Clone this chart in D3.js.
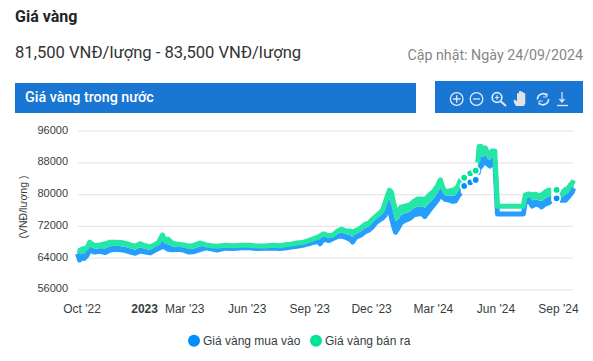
<!DOCTYPE html>
<html>
<head>
<meta charset="utf-8">
<style>
	html, body { margin: 0; padding: 0; background: #fff; }
	svg { display: block; }
	.axis text { font-family: "Liberation Sans", Arial, sans-serif; fill: #373d3f; }
	.left.axis text { font-size: 11px; }
	.bottom.axis text { font-size: 12px; }
	.axis .domain { display: none; }
</style>
<script src="https://cdn.jsdelivr.net/npm/d3@7"></script>
</head>
<body>
<div id="chart-area"></div>
<script>
// Values. null = no price that day, leaves a gap in the line
var dates = [
	"2022-09-25","2022-09-28","2022-10-02","2022-10-05","2022-10-09","2022-10-13","2022-10-20","2022-10-28",
	"2022-11-05","2022-11-12","2022-11-20","2022-11-28","2022-12-05","2022-12-12","2022-12-19","2022-12-26",
	"2023-01-03","2023-01-10","2023-01-16","2023-01-22","2023-01-28","2023-02-01","2023-02-05","2023-02-12",
	"2023-02-20","2023-02-28","2023-03-08","2023-03-15","2023-03-25","2023-04-02","2023-04-10","2023-04-18",
	"2023-05-01","2023-05-12","2023-05-25","2023-06-05","2023-06-15","2023-06-28","2023-07-10","2023-07-20",
	"2023-07-30","2023-08-05","2023-08-14","2023-08-22","2023-08-31","2023-09-08","2023-09-14","2023-09-17",
	"2023-09-22","2023-09-30","2023-10-06","2023-10-12","2023-10-18","2023-10-24","2023-11-01","2023-11-04",
	"2023-11-08","2023-11-16","2023-11-22","2023-11-28","2023-12-02","2023-12-08","2023-12-14","2023-12-18",
	"2023-12-22","2023-12-26","2023-12-28","2023-12-31","2024-01-03","2024-01-06","2024-01-10","2024-01-14",
	"2024-01-20","2024-01-27","2024-02-02","2024-02-08","2024-02-14","2024-02-18","2024-02-25","2024-03-02",
	"2024-03-08","2024-03-12","2024-03-15","2024-03-19","2024-03-25","2024-03-30","2024-04-03","2024-04-07",
	"2024-04-11","2024-04-14","2024-04-16","2024-04-20","2024-04-25","2024-04-29","2024-05-03","2024-05-05",
	"2024-05-06","2024-05-08","2024-05-11","2024-05-14","2024-05-17","2024-05-21","2024-05-24","2024-05-27",
	"2024-05-31","2024-06-04","2024-06-15","2024-06-30","2024-07-12","2024-07-15","2024-07-20","2024-07-25",
	"2024-07-30","2024-08-04","2024-08-08","2024-08-13","2024-08-18","2024-08-22","2024-08-26","2024-08-30",
	"2024-09-02","2024-09-04","2024-09-08","2024-09-12","2024-09-16","2024-09-19","2024-09-22","2024-09-24"
];

var buyPrices = [
	65000,63400,64200,63800,64600,65900,65400,65600,
	65300,65900,66100,66000,65800,65400,65100,65700,
	65400,65200,65800,66300,66800,66600,66100,66000,
	66100,65900,65400,65500,66100,66500,66200,65900,
	66400,66300,66500,66500,66300,66350,66450,66300,
	66500,66700,66900,67100,67500,67900,68050,67500,
	68700,68300,68800,69300,69450,69200,68500,67950,
	69100,69700,70500,71000,71600,72800,73600,74000,
	74800,77000,76500,74000,72000,70400,71500,72800,
	73400,73900,74800,75000,75100,74400,76000,77300,
	78600,80000,79300,78700,78500,78200,78300,79500,
	80300,null,82070,null,83000,null,83590,null,
	85000,86500,87100,87800,88400,87500,87100,88000,
	88400,74980,74980,74980,74980,78000,78500,77000,
	77500,77300,76800,77500,77800,78300,null,78970,
	null,78500,78500,78500,79200,79900,80500,81500
];

var sellPrices = [
	65800,65700,66200,66300,66500,67900,67000,67200,
	67500,67900,67900,67800,67600,67200,66900,67500,
	67000,66700,67200,67800,69700,68400,68700,67600,
	67400,67200,66900,67100,67700,67200,67000,66900,
	67100,67000,67100,67150,66950,66950,67100,67000,
	67300,67400,67700,67800,68300,68800,69200,69500,
	70000,69500,69700,70600,71200,70800,70700,70400,
	70800,71500,72400,72700,73500,74400,75300,76000,
	78000,80000,81000,80500,78000,76000,75800,76700,
	77000,77300,78200,78800,78800,78600,79800,80700,
	82200,83600,81900,80600,80800,81000,81200,82000,
	83800,null,84170,null,85280,null,85930,null,
	88000,92000,92000,90900,91700,90200,90200,90900,
	90900,76980,76980,76980,76980,79800,80050,79800,
	80000,79500,79800,80500,81000,81000,null,81060,
	null,79900,80500,81200,81500,82300,82800,83500
];

// Price held flat through June-July 2024, the two lines stay apart there
var flatBuyPrice = 74980;

var yTicks = [56000, 64000, 72000, 80000, 88000, 96000];
var xTicks = ["2022-10-01","2023-01-01","2023-03-01","2023-06-01","2023-09-01","2023-12-01","2024-03-01","2024-06-01","2024-09-01"];
var xTickLabels = ["Oct '22","2023","Mar '23","Jun '23","Sep '23","Dec '23","Mar '24","Jun '24","Sep '24"];

var seriesNames = ["Giá vàng mua vào", "Giá vàng bán ra"];
var seriesColors = ["#008ffb", "#00e396"];

var width = 593, height = 361;
var parseDate = d3.timeParse("%Y-%m-%d");

var svg = d3.select("#chart-area")
	.append("svg")
		.attr("width", width)
		.attr("height", height);

// Page header above the chart
svg.append("text")
	.attr("x", 15).attr("y", 22)
	.attr("font-family", "Roboto").attr("font-size", 16).attr("font-weight", 700)
	.attr("fill", "#212529")
	.text("Giá vàng");

svg.append("text")
	.attr("x", 15).attr("y", 58)
	.attr("font-family", "Roboto").attr("font-size", 16.6)
	.attr("fill", "#333")
	.text("81,500 VNĐ/lượng - 83,500 VNĐ/lượng");

svg.append("text")
	.attr("x", 583).attr("y", 60)
	.attr("text-anchor", "end")
	.attr("font-family", "Roboto").attr("font-size", 14.25)
	.attr("fill", "#868686")
	.text("Cập nhật: Ngày 24/09/2024");

svg.append("rect")
	.attr("x", 15).attr("y", 83)
	.attr("width", 401).attr("height", 30)
	.attr("fill", "#1976d2");

svg.append("text")
	.attr("x", 25).attr("y", 102)
	.attr("font-family", "Roboto").attr("font-size", 14.3).attr("font-weight", 500)
	.attr("fill", "#fff")
	.text("Giá vàng trong nước");

svg.append("rect")
	.attr("x", 435).attr("y", 81)
	.attr("width", 148).attr("height", 32)
	.attr("fill", "#1976d2");

// Toolbar icons
var icons = svg.append("g")
	.attr("fill", "none")
	.attr("stroke", "#dfeaf7")
	.attr("stroke-width", 1.3);

icons.append("circle").attr("cx", 456.7).attr("cy", 99).attr("r", 6.3);
icons.append("path").attr("d", "M453,99H460.4M456.7,95.3V102.7");
icons.append("circle").attr("cx", 476.5).attr("cy", 99).attr("r", 6.3);
icons.append("path").attr("d", "M473,99H480");
icons.append("circle").attr("cx", 497).attr("cy", 97.5).attr("r", 4.8).attr("stroke-width", 1.7);
icons.append("path").attr("d", "M494.8,97.5H499.2M497,95.3V99.7").attr("stroke-width", 1.2);
icons.append("path").attr("d", "M500.6,101.2L506,106").attr("stroke-width", 2);
icons.append("path")
	.attr("d", "M516,106C514,103 513,101 514,100C515,99.5 516,100.5 517,101.5L517,93.5C518,92.5 518.6,93 518.8,93.5L519,91.5C520,90.8 521,91 521.2,91.5L521.5,92C522.5,91.5 523.2,92 523.4,93C524.4,92.7 525.3,93.3 525.3,94L525.3,103L524,106Z")
	.attr("fill", "#dfe3e8")
	.attr("stroke", "none");
icons.append("path").attr("d", "M537.5,99.5A5.5,5.5 0 0 1 547,95.5M548.5,99A5.5,5.5 0 0 1 539,103").attr("stroke-width", 1.6);
icons.append("path").attr("d", "M547,93V97H543M539,105V101H543").attr("stroke-width", 0.9);
icons.append("path").attr("d", "M562,92V102M559.5,99L562,102L564.5,99").attr("stroke-width", 1.2);
icons.append("path").attr("d", "M557,105.5H568").attr("stroke-width", 1.3);

// Scales
var x = d3.scaleTime()
	.domain([parseDate("2022-09-25"), parseDate("2024-09-24")])
	.range([77.5, 573.6]);

var y = d3.scaleLinear()
	.domain([56000, 96000])
	.range([289.4, 130.7]);

// Y axis with gridlines
var yAxisCall = d3.axisLeft(y)
	.tickValues(yTicks)
	.tickFormat(d3.format("d"))
	.tickSize(-495)
	.tickPadding(10);

var yAxis = svg.append("g")
	.attr("class", "left axis")
	.attr("transform", "translate(78,0)")
	.call(yAxisCall);

yAxis.selectAll(".tick line")
	.attr("stroke", "#e8e8e8")
	.attr("stroke-width", 1.2);

yAxis.selectAll(".tick text")
	.attr("x", -10)
	.attr("y", -1);

// X axis
var xAxisCall = d3.axisBottom(x)
	.tickValues(xTicks.map(parseDate))
	.tickFormat((d, i) => xTickLabels[i])
	.tickSize(0)
	.tickPadding(0);

var xAxis = svg.append("g")
	.attr("class", "bottom axis")
	.attr("transform", "translate(0,304)")
	.call(xAxisCall);

// The year label is bold
xAxis.selectAll(".tick text")
	.style("font-weight", (d, i) => xTickLabels[i] == "2023" ? 700 : 400);

svg.append("text")
	.attr("transform", "translate(27,207) rotate(-90)")
	.attr("text-anchor", "middle")
	.attr("font-family", "Liberation Sans, Arial, sans-serif")
	.attr("font-size", 10.5)
	.attr("fill", "#373d3f")
	.text("(VNĐ/lượng )");

var rows = dates.map((d, i) => ({ date: parseDate(d), buy: buyPrices[i], sell: sellPrices[i] }));

// The daily prices are so dense that they read as solid bands: each line's band
// runs to the halfway point between the two prices, except on the flat stretch
var bandDefined = (d) => d.buy !== null && d.buy !== flatBuyPrice;
var middle = (d) => y((d.buy + d.sell) / 2);

var plot = svg.append("g").attr("opacity", 0.85);

plot.append("path")
	.datum(rows)
	.attr("fill", seriesColors[0])
	.attr("d", d3.area().defined(bandDefined).x(d => x(d.date)).y0(d => y(d.buy)).y1(middle));

plot.append("path")
	.datum(rows)
	.attr("fill", seriesColors[1])
	.attr("d", d3.area().defined(bandDefined).x(d => x(d.date)).y0(middle).y1(d => y(d.sell)));

// Lines. A point with nulls on both sides gets a marker, the line can't show it
[buyPrices, sellPrices].forEach((prices, s) => {
	var data = prices.map((p, i) => ({ date: parseDate(dates[i]), value: p }));

	var line = d3.line()
		.defined(d => d.value !== null)
		.x(d => x(d.date))
		.y(d => y(d.value));

	plot.append("path")
		.datum(data)
		.attr("fill", "none")
		.attr("stroke", seriesColors[s])
		.attr("stroke-width", 5)
		.attr("stroke-linejoin", "round")
		.attr("d", line);

	var isolated = data.filter((d, i) => {
		return d.value !== null && prices[i - 1] === null && prices[i + 1] === null;
	});

	svg.selectAll(".marker" + s)
		.data(isolated)
		.enter()
		.append("circle")
			.attr("class", "marker" + s)
			.attr("cx", d => x(d.date))
			.attr("cy", d => y(d.value))
			.attr("r", 3.7)
			.attr("fill", seriesColors[s])
			.attr("stroke", "#fff")
			.attr("stroke-width", 1.7);
});

// Legend
var legendX = [194, 316];
seriesNames.forEach((name, i) => {
	svg.append("circle")
		.attr("cx", legendX[i]).attr("cy", 340.7)
		.attr("r", 6)
		.attr("fill", seriesColors[i]);
	svg.append("text")
		.attr("x", legendX[i] + 9).attr("y", 345)
		.attr("font-family", "Liberation Sans, Arial, sans-serif")
		.attr("font-size", 12)
		.attr("fill", "#373d3f")
		.text(name);
});
</script>
</body>
</html>
